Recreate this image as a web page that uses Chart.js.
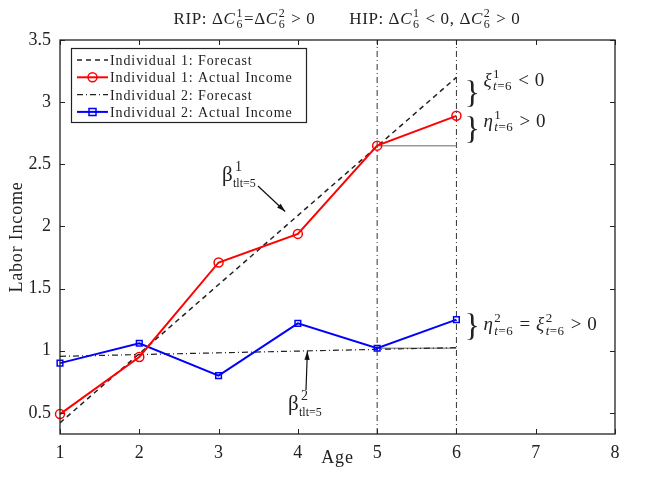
<!DOCTYPE html>
<html>
<head>
<meta charset="utf-8">
<script src="https://cdn.jsdelivr.net/npm/chart.js@4.4.1/dist/chart.umd.min.js"></script>
<style>
  body { margin: 0; background: #fff; }
  #wrap { width: 645px; height: 478px; }
</style>
</head>
<body>
<div id="wrap"><canvas id="c" width="645" height="478"></canvas></div>
<script>
// values
const ages = [1, 2, 3, 4, 5, 6];
const income1 = [0.49, 0.95, 1.71, 1.94, 2.65, 2.89];
const income2 = [0.90, 1.06, 0.80, 1.22, 1.02, 1.25];
const forecastAges = [1, 6];
const forecast1 = [0.42, 3.2];
const forecast2 = [0.955, 1.025];
const gapAges = [5, 6];
const gap1 = [2.65, 2.65];
const gap2 = [1.02, 1.02];
const markerAges = [5, 6];
const xTicks = [1, 2, 3, 4, 5, 6, 7, 8];
const yTicks = [0.5, 1, 1.5, 2, 2.5, 3, 3.5];
const xRange = [1, 8];
const yRange = [0.33, 3.5];

const SERIF = '"Liberation Serif", "DejaVu Serif", serif';
const pts = (xs, ys) => xs.map((x, i) => ({ x: x, y: ys[i] }));

// vertical dash-dot lines at age 5 and 6
const markerSets = markerAges.map(a => ({
  label: 'marker',
  data: [{ x: a, y: yRange[0] }, { x: a, y: yRange[1] }],
  borderColor: '#333', borderWidth: 1, borderDash: [6, 3, 1, 3],
  pointRadius: 0, order: 4
}));

const datasets = [
  { label: 'Individual 1: Forecast', data: pts(forecastAges, forecast1),
    borderColor: '#222', borderWidth: 1.5, borderDash: [5, 4], pointRadius: 0, order: 2 },
  { label: 'Individual 1: Actual Income', data: pts(ages, income1),
    borderColor: '#ff0000', borderWidth: 2, pointStyle: 'circle', pointRadius: 4.5,
    pointBorderWidth: 1.5, pointBackgroundColor: 'rgba(0,0,0,0)', pointBorderColor: '#ff0000',
    clip: false, order: 0 },
  { label: 'Individual 2: Forecast', data: pts(forecastAges, forecast2),
    borderColor: '#222', borderWidth: 1.2, borderDash: [6, 3, 1, 3], pointRadius: 0, order: 2 },
  { label: 'Individual 2: Actual Income', data: pts(ages, income2),
    borderColor: '#0000ff', borderWidth: 2, pointStyle: 'rect', pointRadius: 4,
    pointBorderWidth: 1.5, pointBackgroundColor: 'rgba(0,0,0,0)', pointBorderColor: '#0000ff',
    clip: false, order: 0 },
  { label: 'gap1', data: pts(gapAges, gap1), borderColor: '#999', borderWidth: 1.5, pointRadius: 0, order: 3 },
  { label: 'gap2', data: pts(gapAges, gap2), borderColor: '#999', borderWidth: 1.5, pointRadius: 0, order: 3 }
].concat(markerSets);

// draw a run of math-ish tokens; each token: {t, it} or {sup, sub}
function drawRich(ctx, x, y, tokens, size) {
  let cx = x;
  tokens.forEach(tk => {
    if (tk.t !== undefined) {
      ctx.font = (tk.it ? 'italic ' : '') + size + 'px ' + SERIF;
      ctx.fillText(tk.t, cx, y);
      cx += ctx.measureText(tk.t).width;
    } else {
      const s = Math.round(size * 0.68);
      let w = 0;
      if (tk.sup) {
        ctx.font = s + 'px ' + SERIF;
        ctx.fillText(tk.sup, cx + 1, y - size * 0.42);
        w = Math.max(w, ctx.measureText(tk.sup).width + 1);
      }
      if (tk.sub) {
        let sx = cx + 1;
        tk.sub.forEach(p => {
          ctx.font = (p[1] ? 'italic ' : '') + s + 'px ' + SERIF;
          ctx.fillText(p[0], sx, y + size * 0.25);
          sx += ctx.measureText(p[0]).width;
        });
        w = Math.max(w, sx - cx);
      }
      cx += w + 1;
    }
  });
  return cx - x;
}

function measureRich(ctx, tokens, size) {
  ctx.save();
  ctx.globalAlpha = 0;
  const w = drawRich(ctx, 0, -1000, tokens, size);
  ctx.restore();
  return w;
}

const t6 = [['t', true], ['=6', false]];

const decor = {
  id: 'decor',
  afterDatasetsDraw(chart) {
    const ctx = chart.ctx;
    const xs = chart.scales.x, ys = chart.scales.y;
    const a = chart.chartArea;
    ctx.save();

    // axes box with inward ticks
    ctx.strokeStyle = '#222';
    ctx.lineWidth = 1.3;
    ctx.strokeRect(a.left, a.top, a.right - a.left, a.bottom - a.top);
    ctx.lineWidth = 1;
    ctx.beginPath();
    xTicks.forEach(v => {
      const px = Math.round(xs.getPixelForValue(v)) + 0.5;
      ctx.moveTo(px, a.bottom); ctx.lineTo(px, a.bottom - 5);
      ctx.moveTo(px, a.top); ctx.lineTo(px, a.top + 5);
    });
    yTicks.forEach(v => {
      const py = Math.round(ys.getPixelForValue(v)) + 0.5;
      ctx.moveTo(a.left, py); ctx.lineTo(a.left + 5, py);
      ctx.moveTo(a.right, py); ctx.lineTo(a.right - 5, py);
    });
    ctx.stroke();

    ctx.fillStyle = '#222';
    ctx.textBaseline = 'alphabetic';
    ctx.textAlign = 'left';

    // title
    ctx.letterSpacing = '0.6px';
    const title = [
      { t: 'RIP: Δ' }, { t: 'C', it: true }, { sup: '1', sub: [['6', false]] }, { t: '=Δ' },
      { t: 'C', it: true }, { sup: '2', sub: [['6', false]] }, { t: ' > 0       HIP: Δ' },
      { t: 'C', it: true }, { sup: '1', sub: [['6', false]] }, { t: ' < 0, Δ' },
      { t: 'C', it: true }, { sup: '2', sub: [['6', false]] }, { t: ' > 0' }
    ];
    const tw = measureRich(ctx, title, 17);
    drawRich(ctx, 347 - tw / 2, 24, title, 17);

    // axis titles
    ctx.font = '18px ' + SERIF;
    ctx.letterSpacing = '0.8px';
    ctx.textAlign = 'center';
    ctx.fillText('Age', (a.left + a.right) / 2, 463);
    ctx.save();
    ctx.translate(22, (a.top + a.bottom) / 2);
    ctx.rotate(-Math.PI / 2);
    ctx.fillText('Labor Income', 0, 0);
    ctx.restore();
    ctx.textAlign = 'left';

    // legend
    const lx = 71, ly = 48, lw = 235, lh = 74;
    ctx.fillStyle = '#fff';
    ctx.fillRect(lx, ly, lw, lh);
    ctx.strokeStyle = '#222';
    ctx.lineWidth = 1.2;
    ctx.strokeRect(lx + 0.5, ly + 0.5, lw, lh);
    for (let i = 0; i < 4; i++) {
      const ds = chart.data.datasets[i];
      const ry = ly + 12 + i * 17.3;
      ctx.strokeStyle = ds.borderColor;
      ctx.lineWidth = ds.borderWidth;
      ctx.setLineDash(ds.borderDash || []);
      ctx.beginPath();
      ctx.moveTo(lx + 6, ry); ctx.lineTo(lx + 37, ry);
      ctx.stroke();
      ctx.setLineDash([]);
      if (ds.pointRadius) {
        ctx.lineWidth = 1.5;
        ctx.beginPath();
        if (ds.pointStyle === 'circle') ctx.arc(lx + 21.5, ry, 4.5, 0, Math.PI * 2);
        else ctx.rect(lx + 18, ry - 3.5, 7, 7);
        ctx.stroke();
      }
      ctx.fillStyle = '#222';
      ctx.font = '14px ' + SERIF;
      ctx.letterSpacing = '0.9px';
      ctx.fillText(ds.label, lx + 39, ry + 5);
    }
    ctx.letterSpacing = '0px';

    // braces and labels on the right of age 6
    const bx = xs.getPixelForValue(6) + 8;
    ctx.fillStyle = '#222';
    ctx.font = '32px ' + SERIF;
    const yF = ys.getPixelForValue(forecast1[1]);
    const yA = ys.getPixelForValue(income1[5]);
    const yG = ys.getPixelForValue(gap1[1]);
    const c1 = (yF + yA) / 2 - 5;
    const c2 = (yA + yG) / 2 - 3;
    const c3 = (ys.getPixelForValue(income2[5]) + ys.getPixelForValue(gap2[1])) / 2 - 9;
    ctx.fillText('}', bx, c1 + 11);
    ctx.fillText('}', bx, c2 + 11);
    ctx.fillText('}', bx, c3 + 11);

    ctx.letterSpacing = '0.5px';
    drawRich(ctx, bx + 19, c1 - 6, [{ t: 'ξ', it: true }, { sup: '1', sub: t6 }, { t: ' < 0' }], 19);
    drawRich(ctx, bx + 19, c2 - 1, [{ t: 'η', it: true }, { sup: '1', sub: t6 }, { t: ' > 0' }], 19);
    drawRich(ctx, bx + 19, c3 + 5, [{ t: 'η', it: true }, { sup: '2', sub: t6 }, { t: ' = ' },
      { t: 'ξ', it: true }, { sup: '2', sub: t6 }, { t: ' > 0' }], 19);
    ctx.letterSpacing = '0px';

    // beta labels with arrows
    function arrow(x0, y0, x1, y1) {
      ctx.strokeStyle = '#111';
      ctx.lineWidth = 1.2;
      ctx.beginPath(); ctx.moveTo(x0, y0); ctx.lineTo(x1, y1); ctx.stroke();
      const ang = Math.atan2(y1 - y0, x1 - x0);
      ctx.beginPath();
      ctx.moveTo(x1, y1);
      ctx.lineTo(x1 - 9 * Math.cos(ang - 0.3), y1 - 9 * Math.sin(ang - 0.3));
      ctx.lineTo(x1 - 9 * Math.cos(ang + 0.3), y1 - 9 * Math.sin(ang + 0.3));
      ctx.closePath();
      ctx.fillStyle = '#111';
      ctx.fill();
    }
    function beta(x, y, sup) {
      ctx.fillStyle = '#222';
      ctx.font = '21px ' + SERIF;
      ctx.fillText('β', x, y);
      ctx.font = '14px ' + SERIF;
      ctx.fillText(sup, x + 13, y - 10);
      ctx.font = '12px ' + SERIF;
      ctx.fillText('tlt=5', x + 11, y + 6);
    }
    beta(222, 181, '1');
    arrow(258, 186, xs.getPixelForValue(3.84), ys.getPixelForValue(2.12));
    beta(288, 410, '2');
    arrow(306, 390, xs.getPixelForValue(4.12), ys.getPixelForValue(0.995));

    ctx.restore();
  }
};

new Chart(document.getElementById('c'), {
  type: 'line',
  data: { datasets: datasets },
  options: {
    responsive: false,
    animation: false,
    layout: { padding: { top: 40, right: 30, left: 0, bottom: 0 } },
    plugins: { legend: { display: false }, tooltip: { enabled: false }, title: { display: false } },
    scales: {
      x: {
        type: 'linear', min: xRange[0], max: xRange[1],
        grid: { display: false }, border: { display: false },
        afterBuildTicks: s => { s.ticks = xTicks.map(v => ({ value: v })); },
        afterFit: s => { s.height = 44; },
        ticks: { color: '#222', font: { family: SERIF, size: 18 }, padding: 0, maxRotation: 0,
          callback: v => String(v) }
      },
      y: {
        min: yRange[0], max: yRange[1],
        grid: { display: false }, border: { display: false },
        afterBuildTicks: s => { s.ticks = yTicks.map(v => ({ value: v })); },
        afterFit: s => { s.width = 60; },
        ticks: { color: '#222', font: { family: SERIF, size: 18 }, padding: 1,
          callback: v => String(v) }
      }
    }
  },
  plugins: [decor]
});
</script>
</body>
</html>
